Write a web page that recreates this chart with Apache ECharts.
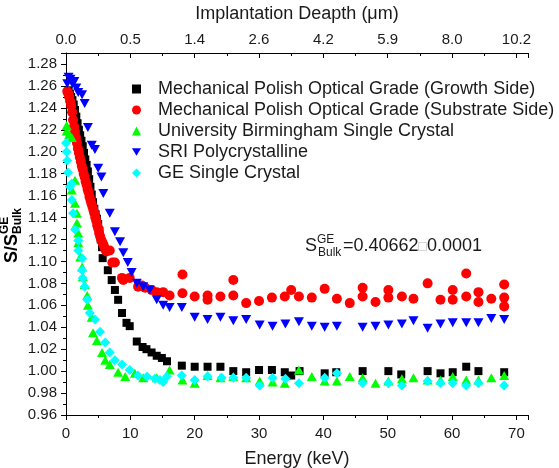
<!DOCTYPE html>
<html>
<head>
<meta charset="utf-8">
<script src="https://cdn.jsdelivr.net/npm/echarts@6/dist/echarts.min.js"></script>
<style>
  html, body { margin: 0; padding: 0; background: #fff; }
  #chart { width: 559px; height: 468px; }
</style>
</head>
<body>
<div id="chart"></div>
<script>
// Energy (keV) / S-parameter ratio pairs
const growthE = [0.4, 0.6, 0.8, 1.0, 1.2, 1.4, 1.6, 1.8, 2.0, 2.2, 2.4, 2.6, 2.8, 3.0, 3.2, 3.4, 3.6, 3.8, 4.0, 4.2, 4.4, 4.6, 4.8, 5.0, 5.2, 5.4, 5.6,
  5.7, 6.5, 7.1, 7.6, 8.1, 8.7, 9.4, 9.9, 11.0, 11.9, 12.5, 13.3, 14.1, 14.9, 15.7,
  18.0, 20.0, 22.0, 24.0, 26.0, 28.0, 30.0, 32.0, 34.0, 35.0, 36.3, 40.2, 42.0, 46.1, 50.1, 52.1,
  56.2, 58.2, 60.1, 62.2, 64.1, 68.1];
const growthS = [1.256, 1.253, 1.250, 1.247, 1.243, 1.238, 1.232, 1.226, 1.220, 1.215, 1.210, 1.205, 1.199, 1.193, 1.188, 1.182, 1.175, 1.168, 1.161, 1.154, 1.148, 1.143, 1.139, 1.134, 1.128, 1.120, 1.113,
  1.103, 1.092, 1.083, 1.074, 1.065, 1.053, 1.044, 1.041, 1.027, 1.022, 1.020, 1.017, 1.014, 1.012, 1.009,
  1.005, 1.004, 1.004, 1.004, 1.000, 0.999, 1.001, 1.001, 0.999, 0.996, 1.000, 0.998, 0.999, 1.000, 1.000, 0.997,
  1.000, 0.998, 0.999, 1.004, 1.000, 0.999];

const substrateE = [0.20, 0.35, 0.50, 0.65, 0.80, 0.95, 1.10, 1.25, 1.40, 1.55, 1.70, 1.85, 2.00, 2.15, 2.30, 2.45, 2.60, 2.75, 2.90, 3.05,
  3.20, 3.35, 3.50, 3.65, 3.80, 3.95, 4.10, 4.25, 4.40, 4.55, 4.70, 4.85, 5.00, 5.15, 5.30, 5.45, 5.60, 5.75, 5.90, 6.10,
  6.3, 6.8, 7.2, 7.6, 8.7, 8.9, 9.9, 11.2, 11.8, 12.3, 13.3, 14.1, 15.1, 16.1,
  18.1, 18.1, 20.0, 22.0, 22.0, 24.0, 26.0, 26.0, 28.0, 30.0, 32.0, 34.0, 35.0, 36.2, 38.2, 40.2, 42.1, 44.1,
  46.1, 46.1, 48.1, 50.1, 50.1, 52.2, 54.0, 56.2, 58.2, 60.1, 60.1, 62.2, 62.2, 64.1, 64.1, 66.1, 68.1, 68.1, 68.1];
const substrateS = [1.255, 1.253, 1.250, 1.246, 1.242, 1.236, 1.229, 1.223, 1.218, 1.213, 1.208, 1.203, 1.199, 1.195, 1.191, 1.187, 1.184, 1.180, 1.177, 1.173,
  1.170, 1.166, 1.163, 1.159, 1.156, 1.153, 1.150, 1.147, 1.144, 1.140, 1.137, 1.133, 1.130, 1.126, 1.123, 1.120, 1.118, 1.116, 1.114, 1.111,
  1.109, 1.110, 1.099, 1.099, 1.085, 1.083, 1.085, 1.077, 1.078, 1.076, 1.074, 1.072, 1.072, 1.069,
  1.088, 1.071, 1.068, 1.069, 1.065, 1.068, 1.083, 1.069, 1.062, 1.064, 1.067, 1.068, 1.074, 1.068, 1.067, 1.075, 1.066, 1.062,
  1.076, 1.068, 1.063, 1.074, 1.067, 1.068, 1.066, 1.080, 1.065, 1.074, 1.065, 1.089, 1.068, 1.072, 1.063, 1.066, 1.079, 1.067, 1.059];

const birminghamE = [0.1, 0.1, 0.5, 0.9, 0.9, 1.4, 1.4, 1.7, 1.7, 1.9, 1.9, 2.2, 2.5, 2.6, 2.9, 3.3, 3.4, 4.0, 4.2, 4.8,
  5.6, 6.1, 6.8, 8.1, 9.2, 10.7, 12.0, 14.1, 16.1, 18.1, 20.0, 22.0, 24.0, 26.0, 28.0, 30.1, 32.1, 34.0, 36.2,
  38.2, 40.2, 42.1, 44.1, 46.1, 48.1, 50.1, 52.2, 54.0, 56.2, 58.2, 60.1, 62.2, 64.1, 66.1, 68.1];
const birminghamS = [1.224, 1.219, 1.216, 1.213, 1.165, 1.174, 1.153, 1.144, 1.135, 1.126, 1.117, 1.104, 1.095, 1.086, 1.079, 1.069, 1.060, 1.049, 1.035, 1.028,
  1.017, 1.010, 1.006, 0.999, 0.995, 0.998, 0.994, 0.994, 1.001, 0.992, 0.989, 0.996, 0.994, 0.995, 0.994, 0.991, 0.990, 0.989, 1.001,
  0.995, 0.991, 0.991, 0.995, 0.994, 0.989, 0.991, 0.993, 0.994, 0.992, 0.992, 0.995, 0.992, 0.992, 0.994, 0.996];

const sriE = [0.2, 0.4, 0.7, 1.0, 1.3, 1.6, 1.9, 2.5, 2.9, 3.4, 4.0, 4.5, 5.0, 5.5, 5.8, 6.8, 7.6, 8.4, 8.9, 9.6, 10.2, 11.0,
  12.0, 13.0, 14.1, 15.1, 16.1, 18.0, 20.0, 22.0, 24.0, 26.0, 28.0, 30.1, 32.1, 34.1, 36.2, 38.2, 40.2, 42.1,
  46.1, 48.1, 50.1, 52.2, 54.0, 56.2, 58.2, 60.1, 62.2, 64.1, 66.1, 68.1];
const sriS = [1.262, 1.268, 1.266, 1.262, 1.264, 1.258, 1.254, 1.252, 1.244, 1.222, 1.206, 1.202, 1.185, 1.177, 1.162, 1.144, 1.127, 1.118, 1.108, 1.099, 1.090, 1.080,
  1.077, 1.074, 1.065, 1.060, 1.058, 1.058, 1.049, 1.047, 1.049, 1.046, 1.047, 1.042, 1.041, 1.043, 1.045, 1.041, 1.040, 1.041,
  1.040, 1.041, 1.042, 1.043, 1.046, 1.039, 1.043, 1.044, 1.044, 1.044, 1.048, 1.047];

const geE = [0.0, 0.1, 0.2, 0.3, 0.6, 0.9, 0.9, 1.1, 1.4, 1.9, 1.9, 2.5, 2.5, 2.6, 2.9, 3.3, 3.7, 4.5, 5.3, 6.1, 6.8, 7.6,
  8.7, 9.9, 11.2, 12.6, 13.8, 14.6, 15.1, 15.7, 18.0, 20.0, 22.0, 24.2, 26.0, 28.0, 30.1, 32.1, 34.1, 36.2,
  40.2, 42.1, 46.1, 50.1, 52.2, 56.2, 58.2, 60.1, 62.2, 64.1, 68.1];
const geS = [1.208, 1.200, 1.192, 1.181, 1.168, 1.171, 1.156, 1.144, 1.129, 1.119, 1.110, 1.103, 1.092, 1.085, 1.077, 1.065, 1.053, 1.047, 1.036, 1.026, 1.017, 1.010,
  1.006, 1.001, 0.996, 0.995, 0.993, 0.992, 0.990, 0.995, 0.996, 0.992, 0.995, 0.994, 0.994, 0.994, 0.987, 0.994, 0.993, 0.989,
  0.994, 0.998, 0.989, 0.989, 0.987, 0.991, 0.989, 0.989, 0.987, 0.989, 0.987];

const seriesNames = [
  'Mechanical Polish Optical Grade (Growth Side)',
  'Mechanical Polish Optical Grade (Substrate Side)',
  'University Birmingham Single Crystal',
  'SRI Polycrystalline',
  'GE Single Crystal'
];

// implantation depth labels on the top axis, one per 10 keV
const depthLabels = ['0.0', '0.5', '1.4', '2.6', '4.2', '5.9', '8.0', '10.2'];

const font = "'Liberation Sans', Arial, sans-serif";
const downTriangle = 'path://M0,0 L20,0 L10,17 Z';

function pairs(xs, ys) {
  return xs.map((x, i) => [x, ys[i]]);
}

const chart = echarts.init(document.getElementById('chart'), null, { renderer: 'canvas' });

const axisCommon = {
  type: 'value',
  min: 0,
  max: 71.8,
  interval: 10,
  axisLine: { show: true, onZero: false, lineStyle: { color: '#000', width: 1 } },
  axisTick: { show: true, length: 5, lineStyle: { color: '#000' } },
  minorTick: { show: true, splitNumber: 2, length: 3, lineStyle: { color: '#000' } },
  splitLine: { show: false },
  nameLocation: 'middle',
  nameTextStyle: { color: '#1a1a1a', fontFamily: font, fontSize: 18 }
};

const option = {
  animation: false,
  backgroundColor: '#fff',
  grid: { left: 66, right: 31, top: 53, bottom: 53, outerBoundsMode: 'none' },
  legend: {
    orient: 'vertical',
    left: 127,
    top: 75,
    itemWidth: 9,
    itemHeight: 9,
    itemGap: 3,
    textStyle: { color: '#1a1a1a', fontFamily: font, fontSize: 18, padding: [0, 0, 0, 12] },
    data: seriesNames
  },
  xAxis: [
    Object.assign({}, axisCommon, {
      position: 'bottom',
      name: 'Energy (keV)',
      nameGap: 35,
      axisLabel: {
        color: '#1a1a1a', fontFamily: font, fontSize: 15, margin: 11,
        formatter: v => (Math.abs(v % 10) < 1e-6 ? String(v) : '')
      }
    }),
    Object.assign({}, axisCommon, {
      position: 'top',
      name: 'Implantation Deapth (\u03bcm)',
      nameGap: 30,
      axisTick: { show: true, inside: true, length: 5, lineStyle: { color: '#000' } },
      minorTick: { show: true, splitNumber: 2, length: 3, lineStyle: { color: '#000' } },
      axisLabel: {
        color: '#1a1a1a', fontFamily: font, fontSize: 15, margin: 6,
        formatter: v => {
          const i = Math.round(v / 10);
          return Math.abs(v - i * 10) < 1e-6 ? depthLabels[i] : '';
        }
      }
    })
  ],
  yAxis: {
    type: 'value',
    min: 0.96,
    max: 1.29,
    interval: 0.02,
    axisLine: { show: true, onZero: false, lineStyle: { color: '#000', width: 1 } },
    axisTick: { show: true, length: 5, lineStyle: { color: '#000' } },
    minorTick: { show: true, splitNumber: 2, length: 3, lineStyle: { color: '#000' } },
    splitLine: { show: false },
    axisLabel: {
      color: '#1a1a1a', fontFamily: font, fontSize: 15, margin: 9,
      formatter: v => (v > 1.285 ? '' : v.toFixed(2))
    }
  },
  graphic: [
    {
      // y-axis title S/S^GE_Bulk, reading upwards
      type: 'group',
      x: 21,
      y: 263,
      rotation: Math.PI / 2,
      children: [
        { type: 'text', x: 0, y: 0, style: { text: 'S/S', font: 'bold 18px ' + font, fill: '#000', verticalAlign: 'bottom' } },
        { type: 'text', x: 29, y: -10, style: { text: 'GE', font: 'bold 12px ' + font, fill: '#000', verticalAlign: 'bottom' } },
        { type: 'text', x: 29, y: 3, style: { text: 'Bulk', font: 'bold 12px ' + font, fill: '#000', verticalAlign: 'bottom' } }
      ]
    },
    {
      // S^GE_Bulk annotation; the box is the unrendered glyph seen in the figure
      type: 'group',
      x: 305,
      y: 255,
      children: [
        { type: 'text', x: 0, y: 0, style: { text: 'S', font: '18px ' + font, fill: '#1a1a1a', verticalAlign: 'bottom' } },
        { type: 'text', x: 12, y: -9, style: { text: 'GE', font: '12px ' + font, fill: '#1a1a1a', verticalAlign: 'bottom' } },
        { type: 'text', x: 13, y: 4, style: { text: 'Bulk', font: '12px ' + font, fill: '#1a1a1a', verticalAlign: 'bottom' } },
        { type: 'text', x: 38, y: 0, style: { text: '=0.40662', font: '18px ' + font, fill: '#1a1a1a', verticalAlign: 'bottom' } },
        { type: 'text', x: 113, y: -1, style: { text: '\u25a1', font: '14px ' + font, fill: '#b0b0b0', verticalAlign: 'bottom' } },
        { type: 'text', x: 122, y: 0, style: { text: '0.0001', font: '18px ' + font, fill: '#1a1a1a', verticalAlign: 'bottom' } }
      ]
    }
  ],
  series: [
    { name: seriesNames[0], type: 'scatter', symbol: 'rect', symbolSize: 8, itemStyle: { color: '#000000', opacity: 1 }, data: pairs(growthE, growthS) },
    { name: seriesNames[1], type: 'scatter', symbol: 'circle', symbolSize: 10, itemStyle: { color: '#ff0000', opacity: 1 }, data: pairs(substrateE, substrateS) },
    { name: seriesNames[2], type: 'scatter', symbol: 'triangle', symbolSize: [10, 9], itemStyle: { color: '#00ff00', opacity: 1 }, data: pairs(birminghamE, birminghamS) },
    { name: seriesNames[3], type: 'scatter', symbol: downTriangle, symbolSize: [10, 9], itemStyle: { color: '#0000ff', opacity: 1 }, data: pairs(sriE, sriS) },
    { name: seriesNames[4], type: 'scatter', symbol: 'diamond', symbolSize: 10, itemStyle: { color: '#00ffff', opacity: 1 }, data: pairs(geE, geS) }
  ]
};

chart.setOption(option);
</script>
</body>
</html>
